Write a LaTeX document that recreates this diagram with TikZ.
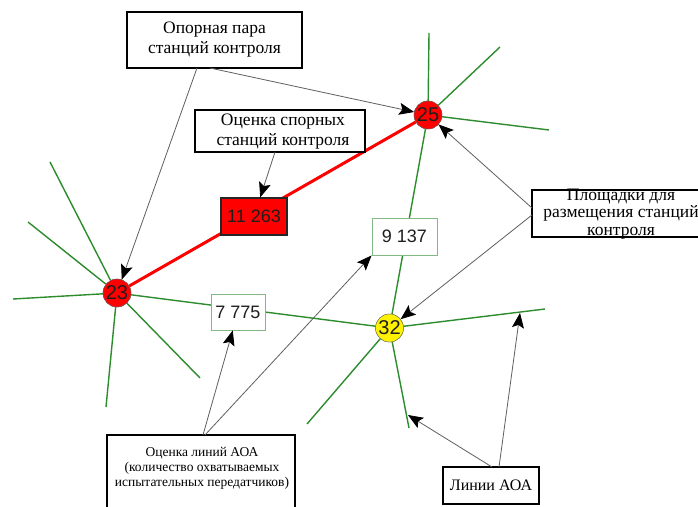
\documentclass[tikz,border=0pt]{standalone}
\usepackage{fontspec}
\setmainfont{Liberation Serif}
\newfontfamily\arialf{Liberation Sans}
\usetikzlibrary{arrows.meta}
\definecolor{lgreen}{RGB}{45,140,45}
\definecolor{boxgreen}{RGB}{130,185,130}
\definecolor{arrgray}{RGB}{95,95,95}
\definecolor{numtext}{RGB}{30,30,30}
\tikzset{
  gl/.style={draw=lgreen, line width=1.4pt},
  redl/.style={draw=red, line width=3pt},
  ptr/.style={draw=arrgray, line width=0.8pt, -{Stealth[length=15pt,width=12pt,inset=3pt,color=black]}},
  station/.style={circle, inner sep=0pt, minimum size=28pt, draw=black!60, line width=0.4pt,
    text=numtext, font=\arialf\fontsize{20}{20}\selectfont},
  numbox/.style={rectangle, inner sep=0pt, text=numtext, font=\arialf\fontsize{18}{18}\selectfont},
  lbox/.style={rectangle, draw=black, line width=1.3pt, fill=white, inner sep=0pt, align=center},
  ltext/.style={inner sep=0pt, align=center}
}
\begin{document}
\begin{tikzpicture}[x=1pt,y=-1pt]
\useasboundingbox (0,0) rectangle (698,506);
\clip (0,0) rectangle (698,506);
\fill[white] (0,0) rectangle (698,506);

% stations
\node[station, fill=red] (s23) at (117,293) {23};
\node[station, fill=red] (s25) at (428,115) {25};
\node[station, fill=yellow] (s32) at (389.5,328) {32};

% free ends of AOA lines
\coordinate (a1) at (13,299);
\coordinate (a2) at (28,222);
\coordinate (a3) at (50,162);
\coordinate (a4) at (106,407);
\coordinate (a5) at (200,378);
\coordinate (b1) at (429,33);
\coordinate (b2) at (500,47);
\coordinate (b3) at (549,130);
\coordinate (c1) at (545,309);
\coordinate (c2) at (307,424);
\coordinate (c3) at (409,428);

\draw[gl] (s23) -- (a1);
\draw[gl] (s23) -- (a2);
\draw[gl] (s23) -- (a3);
\draw[gl] (s23) -- (a4);
\draw[gl] (s23) -- (a5);
\draw[gl] (s25) -- (b1);
\draw[gl] (s25) -- (b2);
\draw[gl] (s25) -- (b3);
\draw[gl] (s32) -- (c1);
\draw[gl] (s32) -- (c2);
\draw[gl] (s32) -- (c3);
\draw[gl] (s23) -- (s32);
\draw[gl] (s25) -- (s32);
\draw[redl] (s23) -- (s25);

% redraw stations on top
\node[station, fill=red] at (s23) {23};
\node[station, fill=red] at (s25) {25};
\node[station, fill=yellow] at (s32) {32};

% number boxes
\node[numbox, fill=red, draw=black!85, line width=1.2pt, minimum width=66pt, minimum height=37pt] (n11263) at (254,216.5) {11 263};
\node[numbox, fill=white, draw=boxgreen, line width=0.9pt, minimum width=54pt, minimum height=36pt] (n7775) at (238,312) {7 775};
\node[numbox, fill=white, draw=boxgreen, line width=0.9pt, minimum width=65pt, minimum height=37pt] (n9137) at (404.5,236.5) {9 137};

% label boxes
\node[lbox, minimum width=175pt, minimum height=56pt] (opora) at (214.5,40) {};
\node[ltext, font=\fontsize{17.5}{20}\selectfont] at (214.5,40) {Опорная пара\\станций контроля};

\node[lbox, minimum width=170pt, minimum height=42pt] (spor) at (280,131) {};
\node[ltext, font=\fontsize{17.5}{20}\selectfont] at (283,132) {Оценка спорных\\станций контроля};

\node[lbox, minimum width=178pt, minimum height=47pt] (plosh) at (621,213.5) {};
\node[ltext, font=\fontsize{17.5}{17.5}\selectfont] at (621,214) {Площадки для\\размещения станций\\контроля};

\node[lbox, minimum width=188pt, minimum height=90pt] (olin) at (201,480) {};
\node[ltext, font=\fontsize{13.5}{15}\selectfont] at (202,468) {Оценка линий АОА\\(количество охватываемых\\испытательных передатчиков)};

\node[lbox, minimum width=96pt, minimum height=37pt, font=\fontsize{16}{18}\selectfont] (linii) at (491,485.5) {Линии АОА};

% arrow start points
\coordinate (o1) at (197,68);
\coordinate (o2) at (210,68);
\coordinate (sp1) at (275,152);
\coordinate (p1) at (532,208);
\coordinate (p2) at (532,215);
\coordinate (l1) at (203,435);
\coordinate (l2) at (205,435);
\coordinate (k1) at (492,467);
\coordinate (k2) at (499,467);
\coordinate (t1) at (408,415);
\coordinate (t2) at (520,313);

\draw[ptr] (o1) -- (s23);
\draw[ptr] (o2) -- (s25);
\draw[ptr] (sp1) -- (n11263);
\draw[ptr] (p1) -- (s25);
\draw[ptr] (p2) -- (s32);
\draw[ptr] (l1) -- (n7775);
\draw[ptr] (l2) -- (n9137.south west);
\draw[ptr] (k1) -- (t1);
\draw[ptr] (k2) -- (t2);
\end{tikzpicture}
\end{document}
